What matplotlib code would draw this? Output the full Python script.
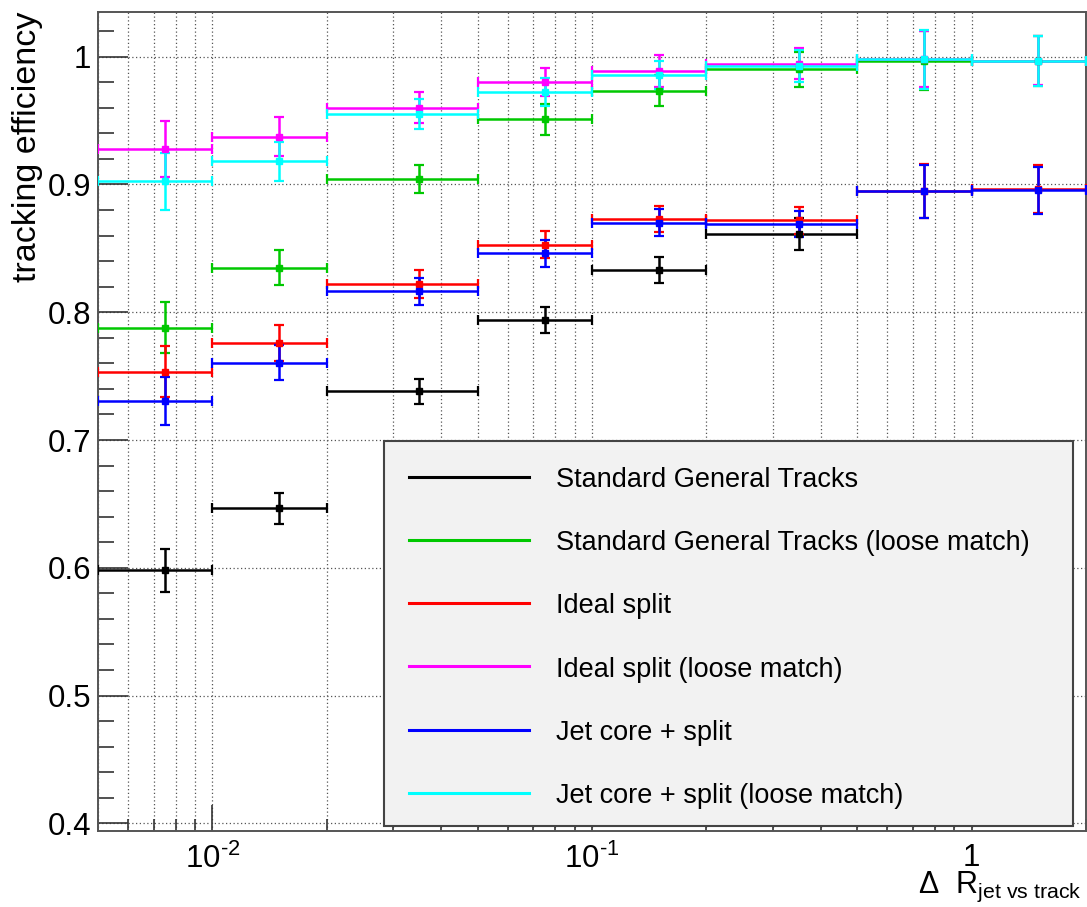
import matplotlib
matplotlib.use("Agg")
import matplotlib.pyplot as plt
from matplotlib import font_manager
from matplotlib.patches import Rectangle
from matplotlib.lines import Line2D
from matplotlib.ticker import MultipleLocator, FixedLocator, FixedFormatter, LogLocator, NullFormatter, FuncFormatter

plt.rcParams['font.family'] = ['Liberation Sans', 'DejaVu Sans']
plt.rcParams['mathtext.fontset'] = 'custom'
plt.rcParams['mathtext.rm'] = 'Liberation Sans'
plt.rcParams['mathtext.it'] = 'Liberation Sans:italic'
plt.rcParams['mathtext.default'] = 'regular'

# === DATA ===
# delta R bins (jet axis vs track)
bin_edges = [0.005, 0.01, 0.02, 0.05, 0.1, 0.2, 0.5, 1.0, 2.0]

labels = [
    "Standard General Tracks",
    "Standard General Tracks (loose match)",
    "Ideal split",
    "Ideal split (loose match)",
    "Jet core + split",
    "Jet core + split (loose match)",
]
colors = ["black", "#00c800", "#ff0000", "#ff00ff", "#0000ff", "#00ffff"]

eff_std = [0.598, 0.6465, 0.738, 0.794, 0.833, 0.861]
err_std = [0.017, 0.012, 0.0095, 0.010, 0.0105, 0.0125]

eff_std_loose = [0.788, 0.835, 0.9045, 0.951, 0.9735, 0.990, 0.997, 0.9965]
err_std_loose = [0.020, 0.014, 0.011, 0.012, 0.012, 0.0135, 0.023, 0.0195]

eff_ideal = [0.7535, 0.776, 0.822, 0.853, 0.873, 0.872, 0.895, 0.8965]
err_ideal = [0.020, 0.014, 0.011, 0.0105, 0.0105, 0.0105, 0.021, 0.019]

eff_ideal_loose = [0.9275, 0.9375, 0.960, 0.980, 0.989, 0.9945, 0.998, 0.997]
err_ideal_loose = [0.022, 0.015, 0.012, 0.011, 0.0125, 0.012, 0.022, 0.019]

eff_jetcore = [0.7305, 0.7605, 0.8165, 0.846, 0.870, 0.869, 0.8945, 0.8955]
err_jetcore = [0.019, 0.0135, 0.0105, 0.0105, 0.0105, 0.0105, 0.021, 0.0185]

eff_jetcore_loose = [0.9025, 0.918, 0.955, 0.9725, 0.9855, 0.9925, 0.998, 0.9965]
err_jetcore_loose = [0.0225, 0.0155, 0.0115, 0.011, 0.011, 0.0125, 0.023, 0.0198]

effs = [eff_std, eff_std_loose, eff_ideal, eff_ideal_loose, eff_jetcore, eff_jetcore_loose]
errs = [err_std, err_std_loose, err_ideal, err_ideal_loose, err_jetcore, err_jetcore_loose]

centers = [(lo + hi) / 2 for lo, hi in zip(bin_edges[:-1], bin_edges[1:])]
half_w = [(hi - lo) / 2 for lo, hi in zip(bin_edges[:-1], bin_edges[1:])]

fig = plt.figure(figsize=(10.87, 9.07), dpi=100, facecolor="white")
ax = fig.add_axes([0.0902, 0.0838, 0.9088, 0.9030])

for eff, err, col in zip(effs, errs, colors):
    n = len(eff)
    ax.errorbar(centers[:n], eff, xerr=half_w[:n], yerr=err, fmt="s", color=col,
                ms=4.5, lw=1.8, capsize=3.5, capthick=1.6, zorder=3)

ax.set_xscale("log")
ax.set_xlim(bin_edges[0], bin_edges[-1])
ax.set_ylim(0.394, 1.035)

ax.yaxis.set_major_locator(MultipleLocator(0.1))
ax.yaxis.set_minor_locator(MultipleLocator(0.02))
ax.yaxis.set_major_formatter(FuncFormatter(lambda v, p: "%g" % round(v, 2)))

# plain hyphen in the exponents, ROOT style
ax.xaxis.set_major_locator(FixedLocator([0.01, 0.1, 1.0]))
ax.xaxis.set_major_formatter(FixedFormatter([r"$10^{\text{-2}}$", r"$10^{\text{-1}}$", "1"]))
ax.xaxis.set_minor_locator(LogLocator(base=10, subs=[2, 3, 4, 5, 6, 7, 8, 9], numticks=20))
ax.xaxis.set_minor_formatter(NullFormatter())

ax.tick_params(axis="both", which="both", direction="in", top=False, right=False,
               color="#333333", width=1.2, labelsize=22.5)
ax.tick_params(axis="y", which="major", length=21.5, pad=5)
ax.tick_params(axis="y", which="minor", length=11.5)
ax.tick_params(axis="x", which="major", length=18.7, pad=9)
ax.tick_params(axis="x", which="minor", length=8.6)

for s in ax.spines.values():
    s.set_color("#555555")
    s.set_linewidth(1.4)

ax.set_axisbelow(True)
ax.grid(True, axis="x", which="both", color="#555555", linestyle=(0, (1, 2)), lw=0.9)
ax.grid(True, axis="y", which="major", color="#555555", linestyle=(0, (1, 2)), lw=0.9)

ax.set_ylabel("tracking efficiency", loc="top", fontsize=24.5, labelpad=3)
fig.text(0.9955, 0.003, r"$\Delta$  R$_{jet\ vs\ track}$", ha="right", va="bottom", fontsize=22)

# legend box drawn by hand to get ROOT-like spacing
names = {f.name for f in font_manager.fontManager.ttflist}
if "Liberation Sans Narrow" in names:
    leg_font, leg_size = "Liberation Sans Narrow", 23
else:
    leg_font, leg_size = "Liberation Sans", 19.5

box = Rectangle((0.2895, 0.006), 0.697, 0.470, transform=ax.transAxes,
                facecolor="#f2f2f2", edgecolor="#444444", lw=1.5, zorder=5)
ax.add_patch(box)
row_top, row_step = 0.4326, 0.0772
for i, (lab, col) in enumerate(zip(labels, colors)):
    yy = row_top - i * row_step
    ax.add_line(Line2D([0.3148, 0.4362], [yy, yy], transform=ax.transAxes,
                       color=col, lw=2.2, zorder=6))
    ax.text(0.4636, yy - 0.004, lab, transform=ax.transAxes, va="center", ha="left",
            fontsize=leg_size, family=[leg_font, "DejaVu Sans"], zorder=6)

plt.savefig("out.png", dpi=100, facecolor="white")
